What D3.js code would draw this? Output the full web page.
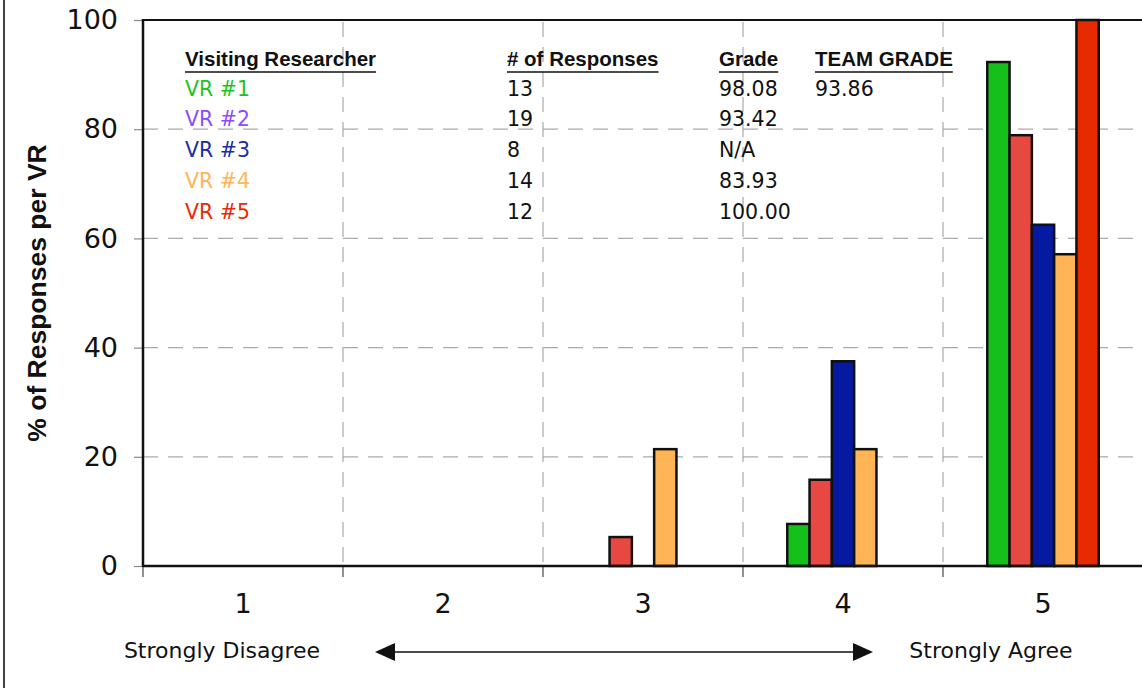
<!DOCTYPE html>
<html>
<head>
<meta charset="utf-8">
<script src="https://cdn.jsdelivr.net/npm/d3@7"></script>
<style>
  html, body { margin: 0; padding: 0; background: #fff; }
  svg { display: block; }
</style>
</head>
<body>
<svg id="chart" width="1142" height="688"></svg>
<script>
// ---- data ----
const categories = ["1", "2", "3", "4", "5"];
const seriesNames = ["VR #1", "VR #2", "VR #3", "VR #4", "VR #5"];
const vr1Values = [0, 0, 0, 7.7, 92.3];
const vr2Values = [0, 0, 5.3, 15.8, 78.9];
const vr3Values = [0, 0, 0, 37.5, 62.5];
const vr4Values = [0, 0, 21.4, 21.4, 57.1];
const vr5Values = [0, 0, 0, 0, 100];
const yTicks = [0, 20, 40, 60, 80, 100];
const responses = ["13", "19", "8", "14", "12"];
const grades = ["98.08", "93.42", "N/A", "83.93", "100.00"];
const teamGrade = "93.86";
const headers = ["Visiting Researcher", "# of Responses", "Grade", "TEAM GRADE"];
const scaleLabels = ["Strongly Disagree", "Strongly Agree"];
const yTitle = "% of Responses per VR";

const barColors = ["#15c01a", "#e84842", "#051aa0", "#ffb456", "#e82a00"];
const textColors = ["#1ec21e", "#8b4cff", "#1a2ba3", "#ffb455", "#e8290a"];

const allValues = [vr1Values, vr2Values, vr3Values, vr4Values, vr5Values];

// ---- layout ----
const svg = d3.select("#chart");
const W = 1142, H = 688;
const pL = 143, pT = 20, pR = 1143, pB = 566;

const x = d3.scaleBand().domain(categories).range([pL, pR]).paddingInner(0).paddingOuter(0);
const groupW = x.bandwidth() * 0.5575;
const xs = d3.scaleBand().domain(seriesNames)
  .range([(x.bandwidth() - groupW) / 2, (x.bandwidth() + groupW) / 2]).padding(0);
const y = d3.scaleLinear().domain([0, 100]).range([pB, pT]);

// figure left border
svg.append("line").attr("x1", 4).attr("x2", 4).attr("y1", 0).attr("y2", H)
  .attr("stroke", "#444").attr("stroke-width", 2);

// horizontal gridlines
svg.append("g").selectAll("line").data(yTicks.filter(d => d > 0 && d < 100)).join("line")
  .attr("x1", pL).attr("x2", W).attr("y1", d => y(d)).attr("y2", d => y(d))
  .attr("stroke", "#aaa").attr("stroke-width", 1.2).attr("stroke-dasharray", "15,10");

// vertical gridlines
svg.append("g").selectAll("line").data(categories.slice(1)).join("line")
  .attr("x1", d => x(d)).attr("x2", d => x(d)).attr("y1", pT).attr("y2", pB)
  .attr("stroke", "#aaa").attr("stroke-width", 1.2).attr("stroke-dasharray", "15,10")
  .attr("stroke-dashoffset", -2);

// y axis
const yAxis = d3.axisLeft(y).tickValues(yTicks).tickSize(9).tickPadding(16).tickFormat(d3.format("d"));
const gy = svg.append("g").attr("transform", `translate(${pL},0)`).call(yAxis);
gy.select(".domain").remove();
gy.selectAll(".tick line").attr("stroke", "#888").attr("stroke-width", 1.2);
gy.selectAll(".tick text").attr("font-family", "DejaVu Sans").attr("font-size", 27).attr("fill", "#111");

// x axis
const xAxis = d3.axisBottom(x).tickSize(0).tickPadding(28);
const gx = svg.append("g").attr("transform", `translate(0,${pB})`).call(xAxis);
gx.select(".domain").remove();
gx.selectAll(".tick text").attr("font-family", "DejaVu Sans").attr("font-size", 27).attr("fill", "#111");

// x band boundary ticks
svg.append("g").selectAll("line").data(categories).join("line")
  .attr("x1", d => x(d)).attr("x2", d => x(d)).attr("y1", pB).attr("y2", pB + 11)
  .attr("stroke", "#555").attr("stroke-width", 1.3);

// top line
svg.append("line").attr("x1", pL).attr("x2", W).attr("y1", pT).attr("y2", pT)
  .attr("stroke", "#111").attr("stroke-width", 2);

// bars
const barData = [];
allValues.forEach((vals, si) => {
  vals.forEach((v, ci) => {
    if (v > 0) barData.push({ s: seriesNames[si], si, c: categories[ci], v });
  });
});
svg.append("g").selectAll("rect").data(barData).join("rect")
  .attr("x", d => x(d.c) + xs(d.s))
  .attr("width", xs.bandwidth())
  .attr("y", d => y(d.v))
  .attr("height", d => y(0) - y(d.v))
  .attr("fill", d => barColors[d.si])
  .attr("stroke", "#111").attr("stroke-width", 2.5);

// axis lines on top
svg.append("line").attr("x1", pL).attr("x2", pL).attr("y1", pT - 1).attr("y2", pB + 1)
  .attr("stroke", "#111").attr("stroke-width", 2.5);
svg.append("line").attr("x1", pL).attr("x2", W).attr("y1", pB).attr("y2", pB)
  .attr("stroke", "#111").attr("stroke-width", 2.5);

// y title
svg.append("text")
  .attr("transform", `translate(46,${(pT + pB) / 2}) rotate(-90)`)
  .attr("text-anchor", "middle")
  .attr("font-family", "Liberation Sans").attr("font-weight", "bold").attr("font-size", 26.5)
  .attr("fill", "#111").text(yTitle);

// legend table
const colX = [185, 507, 719, 815];
const headerY = 66;
const rowY = d3.scaleLinear().domain([0, 4]).range([95.5, 218.5]);
const hg = svg.append("g");
headers.forEach((h, i) => {
  const t = hg.append("text").attr("x", colX[i]).attr("y", headerY)
    .attr("font-family", "Liberation Sans").attr("font-weight", "bold").attr("font-size", 20.5)
    .attr("fill", "#111").text(h);
  const w = t.node().getComputedTextLength();
  hg.append("line").attr("x1", colX[i]).attr("x2", colX[i] + w)
    .attr("y1", headerY + 6).attr("y2", headerY + 6)
    .attr("stroke", "#111").attr("stroke-width", 1.6);
});
const rows = svg.append("g").attr("font-family", "DejaVu Sans").attr("font-size", 20.5);
seriesNames.forEach((s, i) => {
  rows.append("text").attr("x", colX[0]).attr("y", rowY(i)).attr("fill", textColors[i]).text(s);
  rows.append("text").attr("x", colX[1]).attr("y", rowY(i)).attr("fill", "#111").text(responses[i]);
  rows.append("text").attr("x", colX[2]).attr("y", rowY(i)).attr("fill", "#111").text(grades[i]);
});
rows.append("text").attr("x", colX[3]).attr("y", rowY(0)).attr("fill", "#111").text(teamGrade);

// scale labels and arrow
svg.append("text").attr("x", 222).attr("y", 658)
  .attr("text-anchor", "middle").attr("font-family", "DejaVu Sans").attr("font-size", 22)
  .attr("fill", "#111").text(scaleLabels[0]);
svg.append("text").attr("x", 991).attr("y", 658)
  .attr("text-anchor", "middle").attr("font-family", "DejaVu Sans").attr("font-size", 22)
  .attr("fill", "#111").text(scaleLabels[1]);

const ay = 652, ax1 = 375, ax2 = 873;
svg.append("line").attr("x1", ax1 + 15).attr("x2", ax2 - 15).attr("y1", ay).attr("y2", ay)
  .attr("stroke", "#111").attr("stroke-width", 1.6);
svg.append("path").attr("d", `M${ax1},${ay} L${ax1 + 20},${ay - 9} L${ax1 + 20},${ay + 9} Z`).attr("fill", "#111");
svg.append("path").attr("d", `M${ax2},${ay} L${ax2 - 20},${ay - 9} L${ax2 - 20},${ay + 9} Z`).attr("fill", "#111");
</script>
</body>
</html>
